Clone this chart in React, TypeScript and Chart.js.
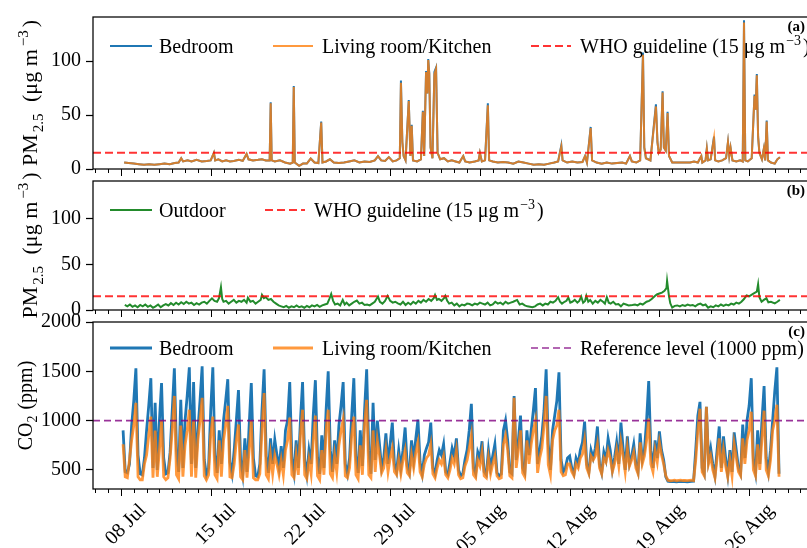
import React, { useEffect, useRef } from "react";
import { Chart, registerables } from "chart.js";

Chart.register(...registerables);

const SERIF = '"Liberation Serif", "Times New Roman", Times, serif';

// ---------------- axis data ----------------
// x values are days counted from 1 July (8 = 08 Jul, 36 = 05 Aug)
const xMinDay = 5.82;
const xMaxDay = 62.06;
const weekTickDays = [8, 15, 22, 29, 36, 43, 50, 57];
const weekTickLabels = ["08 Jul", "15 Jul", "22 Jul", "29 Jul", "05 Aug", "12 Aug", "19 Aug", "26 Aug"];
const pmTicks = [0, 50, 100];
const co2Ticks = [500, 1000, 1500, 2000];
const pmRange = [0, 141];
const co2Range = [306, 2000];
const whoGuideline = 15;
const co2ReferenceLevel = 1000;

// ---------------- (a) indoor PM2.5 ----------------
const pmIndoorTime = [
  8.25, 8.6, 9.0, 9.4, 9.8, 10.2, 10.6, 11.0, 11.4, 11.8,
  12.2, 12.5, 12.7, 12.85, 13.2, 13.5, 13.9, 14.3, 14.7, 15.0,
  15.25, 15.35, 15.6, 15.9, 16.2, 16.5, 16.8, 17.2, 17.5, 17.8,
  17.95, 18.3, 18.7, 19.0, 19.3, 19.6, 19.68, 19.76, 20.0, 20.4,
  20.8, 21.2, 21.4, 21.48, 21.56, 21.9, 22.2, 22.5, 22.8, 23.1,
  23.4, 23.62, 23.72, 24.0, 24.3, 24.6, 25.0, 25.4, 25.8, 26.2,
  26.6, 27.0, 27.4, 27.8, 28.05, 28.3, 28.6, 28.9, 29.2, 29.5,
  29.75, 29.84, 29.95, 30.05, 30.2, 30.45, 30.58, 30.68, 30.78, 31.1,
  31.4, 31.55, 31.65, 31.8, 31.9, 31.97, 32.05, 32.15, 32.3, 32.45,
  32.58, 32.7, 32.9, 33.2, 33.5, 33.8, 34.1, 34.4, 34.7, 34.85,
  35.2, 35.6, 35.9, 36.0, 36.15, 36.4, 36.62, 36.72, 37.0, 37.4,
  37.8, 38.2, 38.6, 39.0, 39.4, 39.8, 40.2, 40.6, 41.0, 41.4,
  41.8, 42.1, 42.35, 42.45, 42.8, 43.2, 43.6, 44.0, 44.2, 44.35,
  44.64, 44.75, 45.1, 45.5, 45.9, 46.3, 46.7, 47.1, 47.4, 47.7,
  47.85, 48.2, 48.5, 48.72, 48.82, 48.95, 49.3, 49.73, 49.85, 49.95,
  50.1, 50.25, 50.35, 50.5, 50.64, 50.75, 51.0, 52.4, 52.7, 53.0,
  53.27, 53.35, 53.6, 53.7, 53.8, 54.0, 54.26, 54.35, 54.6, 54.9,
  55.2, 55.35, 55.45, 55.55, 55.7, 56.0, 56.3, 56.5, 56.6, 56.7,
  56.9, 57.2, 57.35, 57.42, 57.5, 57.6, 57.7, 57.8, 58.0, 58.15,
  58.25, 58.37, 58.47, 58.7, 59.0, 59.2, 59.4,
];
const pmBedroom = [
  6, 5.5, 5, 4.5, 4, 4.5, 4, 4.5, 5, 4.5,
  5.5, 6, 10, 7, 8, 7, 8.5, 7, 7.5, 8,
  15, 8, 9, 7, 8, 7, 7.5, 8.5, 7.5, 14,
  9, 8, 8.5, 9, 8, 8, 62, 8, 7, 8,
  6, 5, 6, 77, 6, 3, 5, 5, 9.7, 6,
  5.5, 44, 6, 7, 9, 6, 5.5, 6, 7, 8,
  6, 7, 6.5, 8, 12, 8, 7.5, 11, 7, 8,
  10, 82, 25, 12, 8, 64, 12, 41, 8, 7,
  9, 54, 12, 91, 70, 102, 89, 20, 10, 90,
  94, 15, 9, 10, 7, 8, 7, 6, 12, 7,
  6, 7, 8, 15, 7, 8, 61, 8, 7, 6,
  6.5, 6, 5, 7, 6, 5, 4, 4.5, 4, 5,
  6, 7, 22, 8, 6, 7, 6, 6.5, 12, 6,
  39, 8, 6, 5, 6, 5, 5.5, 6, 5, 12,
  7, 6, 8, 108, 20, 10, 8, 60, 25, 15,
  18, 72, 20, 17, 53, 12, 6, 6, 7, 6,
  12, 6, 8, 19, 8, 9, 30, 8, 7, 8,
  10, 25, 12, 20, 8, 7, 8, 7, 138, 8,
  7, 10, 50, 69, 55, 88, 30, 15, 9, 19,
  8, 45, 8, 6, 5, 9, 11,
];
const pmLivingRoom = [
  6, 5.5, 5, 4.5, 4, 4.5, 4, 4.5, 5, 4.5,
  5.5, 6, 10, 7, 8, 7, 8.5, 7, 7.5, 8,
  15, 8, 9, 7, 8, 7, 7.5, 8.5, 7.5, 14,
  9, 8, 8.5, 9, 8, 8, 61, 8, 7, 8,
  6, 5, 6, 76, 6, 3, 5, 5, 9.7, 6,
  5.5, 43, 6, 7, 9, 6, 5.5, 6, 7, 8,
  6, 7, 6.5, 8, 12, 8, 7.5, 11, 7, 8,
  10, 80, 25, 12, 8, 63, 12, 40, 8, 7,
  9, 53, 12, 90, 70, 101, 88, 20, 10, 88,
  93, 15, 9, 10, 7, 8, 7, 6, 12, 7,
  6, 7, 8, 15, 7, 8, 59, 8, 7, 6,
  6.5, 6, 5, 7, 6, 5, 4, 4.5, 4, 5,
  6, 7, 21, 8, 6, 7, 6, 6.5, 12, 6,
  38, 8, 6, 5, 6, 5, 5.5, 6, 5, 12,
  7, 6, 8, 106, 20, 10, 8, 58, 25, 15,
  18, 71, 20, 17, 52, 12, 6, 6, 7, 6,
  12, 6, 8, 19, 8, 9, 29, 8, 7, 8,
  10, 25, 12, 20, 8, 7, 8, 7, 136, 8,
  7, 10, 50, 68, 55, 87, 30, 15, 9, 19,
  8, 44, 8, 6, 5, 9, 11,
];

// ---------------- (b) outdoor PM2.5 ----------------
const pmOutdoorTime = [
  8.3, 8.5, 8.7, 8.9, 9.1, 9.3, 9.5, 9.7, 9.9, 10.1,
  10.3, 10.5, 10.7, 10.9, 11.1, 11.3, 11.5, 11.7, 11.9, 12.1,
  12.3, 12.5, 12.7, 12.9, 13.1, 13.3, 13.5, 13.7, 13.9, 14.1,
  14.3, 14.5, 14.7, 14.9, 15.1, 15.3, 15.5, 15.65, 15.8, 15.9,
  16.0, 16.2, 16.4, 16.6, 16.8, 17.0, 17.2, 17.4, 17.6, 17.8,
  17.9, 18.1, 18.3, 18.5, 18.7, 18.9, 19.0, 19.15, 19.3, 19.5,
  19.7, 19.9, 20.1, 20.3, 20.5, 20.7, 20.9, 21.1, 21.3, 21.5,
  21.7, 21.9, 22.1, 22.3, 22.5, 22.7, 22.9, 23.1, 23.3, 23.5,
  23.7, 23.9, 24.1, 24.25, 24.4, 24.55, 24.7, 24.9, 25.1, 25.3,
  25.45, 25.6, 25.8, 26.0, 26.2, 26.4, 26.6, 26.8, 27.0, 27.2,
  27.4, 27.6, 27.8, 28.05, 28.2, 28.4, 28.6, 28.8, 29.0, 29.2,
  29.4, 29.6, 29.8, 30.0, 30.2, 30.4, 30.6, 30.8, 31.0, 31.2,
  31.4, 31.6, 31.8, 32.0, 32.2, 32.4, 32.5, 32.65, 32.8, 33.0,
  33.2, 33.3, 33.45, 33.6, 33.8, 34.0, 34.2, 34.4, 34.6, 34.8,
  35.0, 35.2, 35.4, 35.6, 35.8, 36.0, 36.2, 36.4, 36.6, 36.8,
  37.0, 37.2, 37.4, 37.6, 37.8, 38.0, 38.2, 38.4, 38.6, 38.9,
  39.1, 39.3, 39.5, 39.7, 39.9, 40.1, 40.3, 40.5, 40.7, 40.9,
  41.1, 41.3, 41.5, 41.7, 41.9, 42.1, 42.25, 42.4, 42.6, 42.75,
  42.9, 43.05, 43.2, 43.4, 43.6, 43.75, 43.9, 44.05, 44.2, 44.3,
  44.45, 44.6, 44.8, 45.0, 45.2, 45.4, 45.6, 45.75, 45.9, 46.05,
  46.2, 46.4, 46.6, 46.8, 47.0, 47.2, 47.4, 47.6, 47.9, 48.1,
  48.3, 48.5, 48.7, 48.9, 49.0, 49.2, 49.4, 49.65, 49.8, 50.0,
  50.2, 50.4, 50.55, 50.6, 50.75, 50.85, 51.0, 51.2, 51.4, 51.6,
  51.8, 52.0, 52.2, 52.4, 52.6, 52.8, 53.0, 53.2, 53.4, 53.6,
  53.8, 54.0, 54.2, 54.4, 54.6, 54.8, 55.0, 55.2, 55.4, 55.6,
  55.8, 56.0, 56.2, 56.4, 56.6, 56.8, 57.0, 57.3, 57.6, 57.7,
  57.8, 57.97, 58.15, 58.35, 58.5, 58.7, 59.0, 59.2, 59.4,
];
const pmOutdoor = [
  5.5, 4, 6, 3.5, 5, 3, 5.5, 4, 6, 3.5,
  5, 2.5, 4, 6, 3, 5, 6.5, 5, 7.5, 5.5,
  8, 6, 8.5, 6.5, 9, 7, 8, 5.5, 7.5, 6,
  8, 9, 7, 10, 12.8, 10, 9, 13, 25, 12,
  9, 10, 7, 9, 11, 8, 10, 9, 11, 8,
  13.5, 9, 10, 7, 9, 11, 16.5, 13, 14, 11,
  12, 9, 7, 5, 4, 3, 4.5, 2.5, 4, 3,
  5, 3, 4, 2.5, 4.5, 3, 5, 4, 5.5, 3.5,
  5, 6, 7, 12, 17.6, 10, 6, 7, 5, 11,
  6, 8, 5, 7, 9, 10.3, 7, 8, 5.5, 6,
  5, 7, 9, 14.7, 9, 7, 10, 15.4, 10, 8,
  9, 7.3, 6, 9, 5.5, 8, 6, 9, 7, 10,
  8, 11, 9, 12, 10, 13, 16.5, 11, 12, 10,
  13, 15.4, 10, 7, 8, 5, 7, 4, 6, 5,
  7, 6.5, 5, 7, 6, 8, 7, 6, 8, 5,
  6, 9, 7, 8, 6, 9, 7, 8, 9, 11,
  6, 7, 5, 4, 3.5, 3, 4, 6, 7, 5,
  7, 6, 9, 8, 10, 14, 9, 7, 9, 10,
  13.6, 8, 9, 11, 8, 10, 14.7, 8, 10, 15.4,
  9, 11, 7, 10, 8, 11, 9, 7, 14, 8,
  7, 9, 6, 6.6, 4, 7, 6, 5, 5.5, 6,
  5, 7, 6, 8, 9, 10, 12, 15.4, 17, 18,
  19, 20.9, 24, 31.9, 15, 7.3, 2.6, 4.5, 5, 4,
  5.5, 4.5, 6, 5, 5.5, 4, 6, 7, 5, 6,
  2.5, 4, 3, 5, 4, 6, 4.5, 6, 5, 7,
  6, 8, 7, 9, 12, 16, 15, 17.6, 20, 28.2,
  14, 9, 11, 12.8, 8.4, 9, 7.3, 9, 11,
];

// ---------------- (c) CO2, readings every 4 h from 08 Jul 04:00 ----------------
const co2StartDay = 8 + 4 / 24;
const co2StepDay = 4 / 24;
const co2Bedroom = [
  900, 480, 470, 560, 950, // 08 Jul (from 04:00)
  1200, 1530, 650, 460, 450, 620,
  900, 1150, 1430, 520, 1180, 500,
  1000, 1380, 620, 460, 470, 680,
  1100, 1530, 700, 480, 1210, 520,
  1000, 1250, 1540, 560, 1390, 520,
  900, 1200, 1550, 600, 450, 520,
  1100, 1540, 650, 470, 900, 560, // 15 Jul
  1000, 1200, 1420, 580, 460, 700,
  1000, 1310, 600, 450, 820, 480,
  950, 1380, 620, 440, 430, 560,
  1100, 1520, 640, 470, 820, 560,
  806, 650, 520, 740, 520, 900,
  1000, 1390, 620, 470, 800, 520,
  1000, 1390, 600, 450, 700, 560, // 22 Jul
  1050, 1410, 620, 460, 850, 520,
  1100, 1500, 700, 480, 800, 560,
  950, 1150, 1390, 560, 460, 620,
  1050, 1430, 640, 470, 900, 540,
  1100, 1520, 700, 460, 1180, 600,
  1000, 760, 520, 620, 870, 560,
  760, 980, 560, 480, 700, 520, // 29 Jul
  700, 930, 540, 470, 800, 600,
  820, 1010, 580, 460, 650, 720,
  780, 980, 520, 460, 600, 700,
  650, 760, 480, 450, 580, 720,
  640, 820, 500, 440, 460, 600,
  700, 900, 1170, 520, 460, 680,
  620, 790, 480, 450, 700, 520, // 05 Aug
  640, 760, 470, 440, 460, 900,
  1000, 800, 480, 460, 1250, 600,
  800, 1050, 520, 470, 900, 650,
  900, 1100, 1330, 560, 700, 850,
  1100, 1520, 760, 500, 900, 1050,
  1200, 1490, 600, 480, 520, 620,
  640, 520, 460, 620, 560, 700, // 12 Aug
  780, 990, 560, 480, 700, 620,
  720, 940, 560, 470, 680, 600,
  820, 700, 500, 620, 780, 560,
  980, 720, 500, 840, 560, 640,
  760, 560, 480, 870, 600, 700,
  1000, 1400, 700, 520, 800, 620,
  890, 700, 600, 430, 385, 380, // 19 Aug
  380, 382, 378, 380, 383, 380,
  380, 378, 381, 383, 385, 700,
  1050, 1190, 520, 460, 1140, 600,
  720, 560, 440, 700, 940, 520,
  840, 620, 450, 700, 480, 880,
  700, 520, 460, 960, 620, 1000,
  1150, 1430, 600, 470, 900, 560, // 26 Aug
  1000, 1350, 620, 480, 700, 1000,
  1300, 1540, 460,
];
const co2LivingRoom = [
  760, 430, 420, 600, 800, // 08 Jul (from 04:00)
  950, 1180, 430, 400, 400, 560,
  650, 850, 1040, 420, 900, 430,
  700, 1000, 430, 400, 420, 620,
  900, 1250, 450, 410, 950, 430,
  750, 900, 1110, 430, 1000, 420,
  800, 1000, 1230, 440, 400, 450,
  850, 1040, 450, 410, 800, 430, // 15 Jul
  800, 950, 1150, 430, 420, 560,
  800, 960, 430, 400, 700, 420,
  700, 1000, 420, 400, 400, 460,
  900, 1280, 450, 410, 650, 460,
  650, 560, 450, 600, 450, 700,
  800, 1030, 450, 420, 650, 450,
  850, 1110, 450, 410, 600, 460, // 22 Jul
  800, 1050, 440, 400, 700, 450,
  900, 1110, 460, 420, 650, 480,
  750, 900, 1010, 440, 420, 520,
  850, 1040, 450, 410, 750, 450,
  950, 1210, 450, 420, 900, 480,
  800, 650, 470, 520, 700, 480,
  620, 720, 480, 450, 600, 460, // 29 Jul
  600, 700, 470, 440, 650, 520,
  680, 780, 480, 430, 560, 620,
  650, 760, 460, 420, 520, 600,
  560, 640, 450, 420, 500, 620,
  560, 700, 450, 410, 420, 540,
  600, 720, 850, 450, 420, 600,
  540, 680, 440, 420, 620, 460, // 05 Aug
  560, 640, 440, 410, 420, 760,
  850, 700, 440, 420, 1230, 520,
  700, 900, 470, 430, 800, 560,
  760, 900, 1000, 470, 620, 720,
  950, 1250, 550, 450, 800, 900,
  950, 1110, 480, 440, 450, 560,
  560, 480, 440, 560, 520, 620, // 12 Aug
  660, 800, 520, 460, 640, 600,
  640, 760, 520, 460, 620, 580,
  700, 620, 480, 560, 700, 540,
  780, 640, 480, 720, 540, 600,
  680, 520, 460, 780, 560, 640,
  800, 1020, 560, 480, 700, 580,
  780, 650, 560, 440, 395, 390, // 19 Aug
  392, 395, 390, 393, 395, 392,
  393, 391, 394, 396, 392, 600,
  900, 1120, 480, 440, 1140, 560,
  640, 500, 420, 620, 820, 480,
  700, 540, 430, 600, 440, 760,
  620, 480, 440, 820, 560, 800,
  900, 1090, 500, 440, 760, 500, // 26 Aug
  820, 1100, 500, 440, 600, 900,
  1000, 1160, 430,
];

// ---------------- styles ----------------
const C_BED = "#1f77b4";
const C_LIV = "rgba(255,127,14,0.8)";
const C_OUT = "#238b2c";
const C_WHO = "rgba(255,0,0,0.8)";
const C_REF = "rgba(128,0,128,0.8)";

type Part = { t: string; k?: "sub" | "sup"; gap?: number };

function partFont(size: number, k?: string) {
  return `${k ? Math.round(size * 0.7) : size}px ${SERIF}`;
}
function partsWidth(ctx: CanvasRenderingContext2D, parts: Part[], size: number) {
  let w = 0;
  for (const p of parts) {
    ctx.font = partFont(size, p.k);
    w += ctx.measureText(p.t).width + (p.gap || 0);
  }
  return w;
}
function drawParts(ctx: CanvasRenderingContext2D, parts: Part[], x: number, y: number, size: number) {
  let cx = x;
  ctx.textAlign = "left";
  ctx.textBaseline = "alphabetic";
  for (const p of parts) {
    ctx.font = partFont(size, p.k);
    const dy = p.k === "sub" ? size * 0.25 : p.k === "sup" ? -size * 0.42 : 0;
    ctx.fillText(p.t, cx, y + dy);
    cx += ctx.measureText(p.t).width + (p.gap || 0);
  }
}

const decorPlugin = {
  id: "decor",
  afterDraw(chart: any, _args: any, opts: any) {
    const { ctx, chartArea: ca, scales } = chart;
    const xs = scales.x;
    ctx.save();
    ctx.fillStyle = "#000";
    ctx.strokeStyle = "#000";
    // x tick marks: weekly major, daily minor
    ctx.lineWidth = 1;
    for (let d = Math.ceil(xs.min); d <= Math.floor(xs.max); d++) {
      const px = Math.round(xs.getPixelForValue(d)) + 0.5;
      const len = weekTickDays.includes(d) ? 7 : 4;
      ctx.beginPath();
      ctx.moveTo(px, ca.bottom);
      ctx.lineTo(px, ca.bottom + len);
      ctx.stroke();
    }
    // frame
    ctx.lineWidth = 1.25;
    ctx.strokeRect(ca.left, ca.top, ca.right - ca.left, ca.bottom - ca.top);
    // legend inside axes
    for (const it of opts.legend) {
      const y = ca.top + opts.legendDy;
      ctx.save();
      ctx.strokeStyle = it.color;
      ctx.lineWidth = it.width;
      ctx.setLineDash(it.dash || []);
      ctx.beginPath();
      ctx.moveTo(ca.left + it.x0, y);
      ctx.lineTo(ca.left + it.x1, y);
      ctx.stroke();
      ctx.restore();
      ctx.fillStyle = "#000";
      drawParts(ctx, it.text, ca.left + it.tx, y + 7, 20);
    }
    // panel label
    ctx.font = `bold 15px ${SERIF}`;
    ctx.textAlign = "right";
    ctx.textBaseline = "alphabetic";
    ctx.fillText(opts.panel, ca.right - 9, ca.top + 14);
    // y axis title
    const ts = opts.titleSize || 20;
    const tw = partsWidth(ctx, opts.title, ts);
    ctx.save();
    ctx.translate(opts.titleX, (ca.top + ca.bottom) / 2);
    ctx.rotate(-Math.PI / 2);
    drawParts(ctx, opts.title, -tw / 2, 0, ts);
    ctx.restore();
    ctx.restore();
  },
};

const PM_TITLE: Part[] = [
  { t: "PM", gap: 2 },
  { t: "2.5", k: "sub", gap: 6 },
  { t: " (μg m", gap: 3 },
  { t: "−3", k: "sup", gap: 3 },
  { t: ")" },
];
const CO2_TITLE: Part[] = [{ t: "CO" }, { t: "2", k: "sub", gap: 1 }, { t: " (ppm)" }];
const WHO_TEXT: Part[] = [{ t: "WHO guideline (15 μg m", gap: 1 }, { t: "−3", k: "sup", gap: 2 }, { t: ")" }];

function pts(xs: number[], ys: number[]) {
  const n = Math.min(xs.length, ys.length);
  const out: { x: number; y: number }[] = [];
  for (let i = 0; i < n; i++) out.push({ x: xs[i], y: ys[i] });
  return out;
}
function stepPts(start: number, step: number, ys: number[]) {
  return ys.map((y, i) => ({ x: start + i * step, y }));
}
function hline(v: number) {
  return [{ x: xMinDay, y: v }, { x: xMaxDay, y: v }];
}

// order: lower order is painted on top in Chart.js
function lineDs(label: string, data: any[], color: string, width: number, order: number, dash?: number[]) {
  return {
    label,
    data,
    order,
    borderColor: color,
    backgroundColor: color,
    borderWidth: width,
    borderDash: dash || [],
    pointRadius: 0,
    pointHoverRadius: 0,
    tension: 0,
    fill: false,
  };
}

function makeConfig(p: {
  datasets: any[];
  yRange: number[];
  yTicks: number[];
  padTop: number;
  padBottom: number;
  xHeight: number;
  showXLabels: boolean;
  decor: any;
}) {
  return {
    type: "line",
    data: { datasets: p.datasets },
    options: {
      responsive: false,
      animation: false,
      devicePixelRatio: 1,
      events: [],
      layout: { padding: { left: 0, right: 16, top: p.padTop, bottom: p.padBottom } },
      plugins: { legend: { display: false }, tooltip: { enabled: false }, decor: p.decor },
      scales: {
        x: {
          type: "linear",
          min: xMinDay,
          max: xMaxDay,
          afterBuildTicks: (s: any) => {
            s.ticks = weekTickDays.map((v) => ({ value: v }));
          },
          afterFit: (s: any) => {
            s.height = p.xHeight;
            s.paddingLeft = 0;
            s.paddingRight = 0;
          },
          grid: { display: false, drawTicks: true, tickLength: 7 },
          border: { display: false },
          ticks: {
            display: p.showXLabels,
            autoSkip: false,
            minRotation: 45,
            maxRotation: 45,
            labelOffset: 22,
            padding: 3,
            color: "#000",
            font: { family: SERIF, size: 20 },
            callback: (v: any) => {
              const i = weekTickDays.indexOf(Number(v));
              return i >= 0 ? weekTickLabels[i] : "";
            },
          },
        },
        y: {
          type: "linear",
          min: p.yRange[0],
          max: p.yRange[1],
          afterBuildTicks: (s: any) => {
            s.ticks = p.yTicks.map((v) => ({ value: v }));
          },
          afterFit: (s: any) => {
            s.width = 93;
          },
          grid: { drawOnChartArea: false, drawTicks: true, tickLength: 7, tickColor: "#000", tickWidth: 1.25 },
          border: { display: false },
          ticks: {
            color: "#000",
            padding: 5,
            font: { family: SERIF, size: 20 },
            callback: (v: any) => String(v),
          },
        },
      },
    },
    plugins: [decorPlugin],
  } as any;
}

const cfgA = () =>
  makeConfig({
    datasets: [
      lineDs("Bedroom", pts(pmIndoorTime, pmBedroom), C_BED, 2, 3),
      lineDs("Living room/Kitchen", pts(pmIndoorTime, pmLivingRoom), C_LIV, 2, 2),
      lineDs("WHO guideline", hline(whoGuideline), C_WHO, 2, 1, [8, 4]),
    ],
    yRange: pmRange,
    yTicks: pmTicks,
    padTop: 14,
    padBottom: 548 - 169 - 10,
    xHeight: 10,
    showXLabels: false,
    decor: {
      panel: "(a)",
      title: PM_TITLE,
      titleSize: 22,
      titleX: 37,
      legendDy: 29,
      legend: [
        { x0: 17, x1: 59, tx: 66, color: C_BED, width: 2, text: [{ t: "Bedroom" }] },
        { x0: 180, x1: 220, tx: 229, color: C_LIV, width: 2, text: [{ t: "Living room/Kitchen" }] },
        { x0: 438, x1: 478, tx: 487, color: C_WHO, width: 2, dash: [8, 4], text: WHO_TEXT },
      ],
    },
  });

const cfgB = () =>
  makeConfig({
    datasets: [
      lineDs("Outdoor", pts(pmOutdoorTime, pmOutdoor), C_OUT, 2, 2),
      lineDs("WHO guideline", hline(whoGuideline), C_WHO, 2, 1, [8, 4]),
    ],
    yRange: pmRange,
    yTicks: pmTicks,
    padTop: 181,
    padBottom: 548 - 310 - 10,
    xHeight: 10,
    showXLabels: false,
    decor: {
      panel: "(b)",
      title: PM_TITLE,
      titleSize: 22,
      titleX: 37,
      legendDy: 29,
      legend: [
        { x0: 17, x1: 59, tx: 66, color: C_OUT, width: 2, text: [{ t: "Outdoor" }] },
        { x0: 172, x1: 212, tx: 221, color: C_WHO, width: 2, dash: [8, 4], text: WHO_TEXT },
      ],
    },
  });

const cfgC = () =>
  makeConfig({
    datasets: [
      lineDs("Bedroom", stepPts(co2StartDay, co2StepDay, co2Bedroom), C_BED, 2.8, 3),
      lineDs("Living room/Kitchen", stepPts(co2StartDay, co2StepDay, co2LivingRoom), C_LIV, 2.8, 2),
      lineDs("Reference level", hline(co2ReferenceLevel), C_REF, 1.6, 1, [7, 4]),
    ],
    yRange: co2Range,
    yTicks: co2Ticks,
    padTop: 322,
    padBottom: 0,
    xHeight: 548 - 489,
    showXLabels: true,
    decor: {
      panel: "(c)",
      title: CO2_TITLE,
      titleSize: 20,
      titleX: 32,
      legendDy: 26,
      legend: [
        { x0: 17, x1: 59, tx: 66, color: C_BED, width: 3, text: [{ t: "Bedroom" }] },
        { x0: 180, x1: 220, tx: 229, color: C_LIV, width: 3, text: [{ t: "Living room/Kitchen" }] },
        { x0: 438, x1: 478, tx: 487, color: C_REF, width: 1.6, dash: [7, 4], text: [{ t: "Reference level (1000 ppm)" }] },
      ],
    },
  });

export default function App() {
  const refA = useRef<HTMLCanvasElement>(null);
  const refB = useRef<HTMLCanvasElement>(null);
  const refC = useRef<HTMLCanvasElement>(null);

  useEffect(() => {
    const charts = [
      new Chart(refA.current as HTMLCanvasElement, cfgA()),
      new Chart(refB.current as HTMLCanvasElement, cfgB()),
      new Chart(refC.current as HTMLCanvasElement, cfgC()),
    ];
    return () => charts.forEach((c) => c.destroy());
  }, []);

  const cs: React.CSSProperties = { position: "absolute", left: 0, top: 0, width: 830, height: 548 };
  return (
    <div
      style={{
        position: "absolute",
        left: 0,
        top: 0,
        width: 807,
        height: 548,
        overflow: "hidden",
        background: "#fff",
      }}
    >
      <canvas ref={refA} width={830} height={548} style={cs} />
      <canvas ref={refB} width={830} height={548} style={cs} />
      <canvas ref={refC} width={830} height={548} style={cs} />
    </div>
  );
}
